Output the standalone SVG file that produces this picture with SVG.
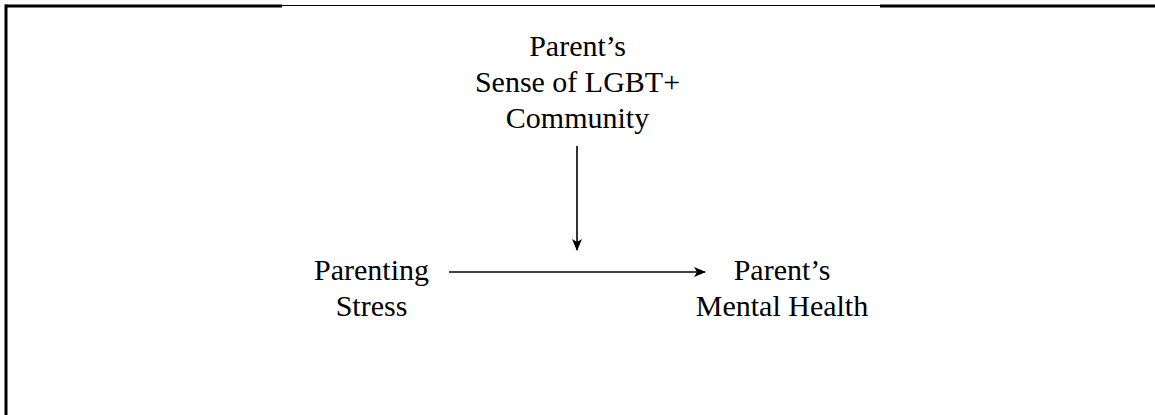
<svg xmlns="http://www.w3.org/2000/svg" width="1155" height="415" viewBox="0 0 1155 415">
  <style>
    .lbl { font-family: "Liberation Serif", "Times New Roman", serif; font-size: 30px; fill: #000; text-anchor: middle; }
    .conn { stroke: #000; stroke-width: 1.6; fill: none; }
    .frame { stroke: #000; fill: none; }
  </style>
  <defs>
    <marker id="arr" viewBox="0 0 12 10" refX="11" refY="5" markerWidth="12" markerHeight="10" markerUnits="userSpaceOnUse" orient="auto">
      <path d="M0,0 L12,5 L0,10 L3,5 Z" fill="#000"/>
    </marker>
  </defs>
  <rect width="1155" height="415" fill="#fff"/>
  <g id="frame">
    <line class="frame" x1="5" y1="6" x2="282" y2="6" stroke-width="3"/>
    <line class="frame" x1="282" y1="5.5" x2="880" y2="5.5" stroke-width="1.2"/>
    <line class="frame" x1="880" y1="6" x2="1155" y2="6" stroke-width="3"/>
    <line class="frame" x1="6" y1="4.5" x2="6" y2="415" stroke-width="3"/>
  </g>
  <g id="connectors">
    <line class="conn" x1="449" y1="272" x2="705" y2="272" marker-end="url(#arr)"/>
    <line class="conn" x1="577" y1="146" x2="577" y2="250" marker-end="url(#arr)"/>
  </g>
  <g id="node-community">
    <text class="lbl" x="577.5" y="56">Parent’s</text>
    <text class="lbl" x="577.5" y="92">Sense of LGBT+</text>
    <text class="lbl" x="577.5" y="128">Community</text>
  </g>
  <g id="node-stress">
    <text class="lbl" x="371.5" y="280">Parenting</text>
    <text class="lbl" x="371.5" y="316">Stress</text>
  </g>
  <g id="node-health">
    <text class="lbl" x="782" y="280">Parent’s</text>
    <text class="lbl" x="782" y="316">Mental Health</text>
  </g>
</svg>
